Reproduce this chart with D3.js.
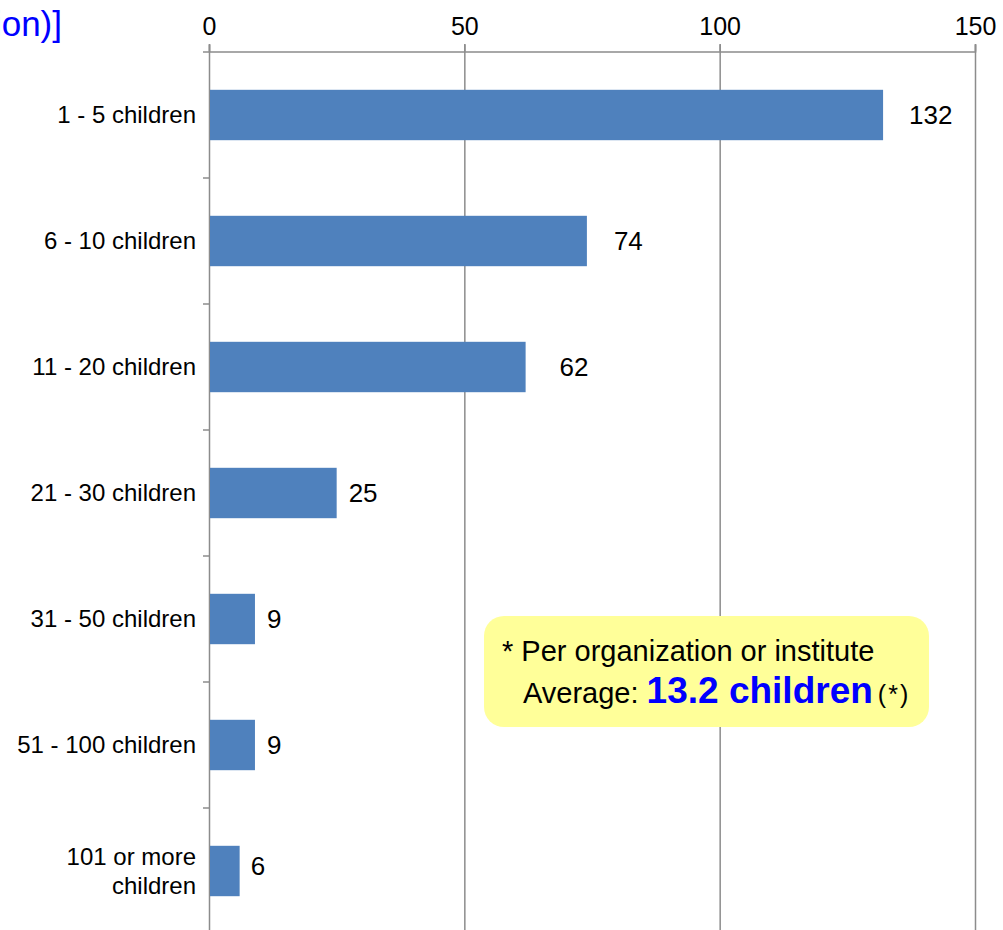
<!DOCTYPE html>
<html><head><meta charset="utf-8">
<script src="https://cdn.jsdelivr.net/npm/d3@7"></script>
<style>body{margin:0;background:#fff;} svg{display:block;font-family:Arial,"Liberation Sans",sans-serif;}</style>
</head><body>
<svg id="c" width="1003" height="930"></svg>
<script>
const categories = ["1 - 5 children","6 - 10 children","11 - 20 children","21 - 30 children","31 - 50 children","51 - 100 children","101 or more\nchildren"];
const values = [132, 74, 62, 25, 9, 9, 6];
const tickValues = [0, 50, 100, 150];
const titleText = "[Number of children accepted (per organization)]";
const noteLine1 = "* Per organization or institute";
const noteLabel = "Average: ";
const noteValue = "13.2 children";
const noteMark = "(*)";
// label gap after each bar end (layout only)
const labelGap = [26, 27, 34, 12, 12, 12, 11];

const svg = d3.select("#c");
const x = d3.scaleLinear().domain([0,150]).range([209,975]);
const y = d3.scaleBand().domain(categories).range([52,934]).paddingInner(0.6).paddingOuter(0.3);

// title (cut off at left, as in the original)
svg.append("text").attr("x",62).attr("y",36).attr("text-anchor","end")
  .attr("font-size",35).attr("fill","#0000ff").text(titleText);

// grid lines
svg.append("g").selectAll("line").data(tickValues.slice(1)).join("line")
  .attr("x1",d=>x(d)+0.5).attr("x2",d=>x(d)+0.5).attr("y1",44).attr("y2",930)
  .attr("stroke","#8c8c8c").attr("stroke-width",1.5);

// top axis
const xAxis = d3.axisTop(x).tickValues(tickValues).tickSize(7).tickPadding(10);
const gx = svg.append("g").attr("transform","translate(0,51.5)").call(xAxis);
gx.select(".domain").attr("stroke","#8c8c8c").attr("stroke-width",1.5);
gx.selectAll(".tick line").attr("stroke","#8c8c8c").attr("stroke-width",1.5);
gx.selectAll(".tick text").attr("font-size",25).attr("fill","#000").attr("font-family","Arial,'Liberation Sans',sans-serif");

// left axis ticks at band boundaries
const step = y.step();
const bounds = d3.range(categories.length+1).map(i=>52+i*step);
svg.append("g").selectAll("line").data(bounds).join("line")
  .attr("x1",203).attr("x2",209).attr("y1",d=>d).attr("y2",d=>d)
  .attr("stroke","#8c8c8c").attr("stroke-width",1.5);
svg.append("line").attr("x1",209.5).attr("x2",209.5).attr("y1",44).attr("y2",930)
  .attr("stroke","#8c8c8c").attr("stroke-width",1.5);

// bars
svg.append("g").selectAll("rect").data(values).join("rect")
  .attr("x",x(0)+1).attr("y",(d,i)=>y(categories[i]))
  .attr("width",d=>x(d)-x(0)-1).attr("height",y.bandwidth())
  .attr("fill","#4f81bd");

// value labels
svg.append("g").selectAll("text").data(values).join("text")
  .attr("x",(d,i)=>x(d)+labelGap[i]).attr("y",(d,i)=>y(categories[i])+y.bandwidth()/2+(i===values.length-1?4:9))
  .attr("font-size",26).attr("fill","#000").text(d=>d);

// category labels
const cl = svg.append("g").selectAll("text").data(categories).join("text")
  .attr("text-anchor","end").attr("font-size",24).attr("fill","#000");
cl.each(function(d){
  const lines = d.split("\n");
  const cy = y(d)+y.bandwidth()/2;
  const t = d3.select(this);
  lines.forEach((ln,j)=>{
    t.append("tspan").attr("x",196)
     .attr("y",cy+8+(j-(lines.length-1)/2)*29).text(ln);
  });
});

// note box
svg.append("rect").attr("x",484).attr("y",616).attr("width",445).attr("height",111)
  .attr("rx",20).attr("fill","#ffff99");
svg.append("text").attr("x",502).attr("y",661).attr("font-size",29).attr("fill","#000").text(noteLine1);
const t2 = svg.append("text").attr("x",523).attr("y",703).attr("font-size",29).attr("fill","#000");
t2.append("tspan").text(noteLabel);
t2.append("tspan").attr("font-size",37).attr("font-weight","bold").attr("fill","#0000ff").text(noteValue);
t2.append("tspan").attr("font-size",25).attr("dx",5).attr("letter-spacing",2).text(noteMark);
</script>
</body></html>
